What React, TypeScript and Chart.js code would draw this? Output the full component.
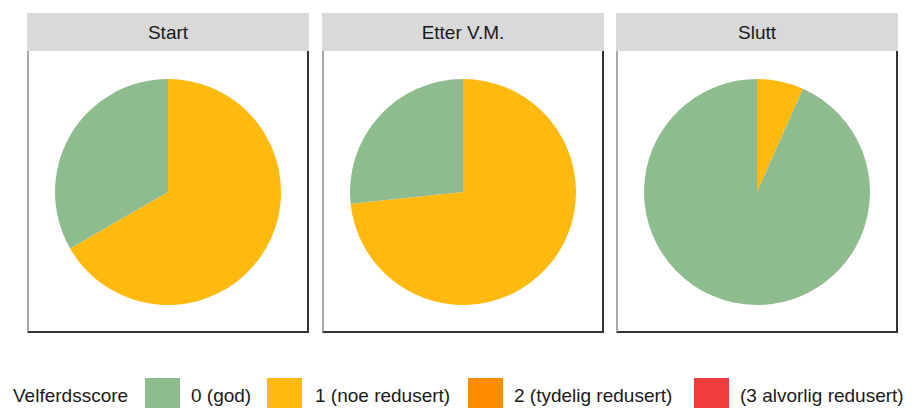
import React, { useEffect, useRef } from "react";
import { Chart, registerables } from "chart.js";

Chart.register(...registerables);

const panelTitles = ["Start", "Etter V.M.", "Slutt"];
const categories = ["0 (god)", "1 (noe redusert)", "2 (tydelig redusert)", "(3 alvorlig redusert)"];
const categoryColors = ["#8fbc8f", "#ffb90f", "#ff8c00", "#ee3b3b"];
const startCounts = [5, 10, 0, 0];
const etterCounts = [4, 11, 0, 0];
const sluttCounts = [14, 1, 0, 0];
const panelCounts = [startCounts, etterCounts, sluttCounts];
const legendTitle = "Velferdsscore";

const FONT = '"Liberation Sans", Arial, sans-serif';
const panelLefts = [27, 322, 616];
const PANEL_W = 282;
const HEADER_TOP = 13;
const HEADER_H = 38;
const BOX_TOP = 51;
const BOX_H = 282;

function Pie({ counts }: { counts: number[] }) {
  const ref = useRef<HTMLCanvasElement | null>(null);
  useEffect(() => {
    if (!ref.current) return;
    // stack order like ggplot: highest category first, clockwise from 12 o'clock
    const order = [3, 2, 1, 0];
    const chart = new Chart(ref.current, {
      type: "pie",
      data: {
        labels: order.map((i) => categories[i]),
        datasets: [
          {
            data: order.map((i) => counts[i]),
            backgroundColor: order.map((i) => categoryColors[i]),
            borderWidth: 0,
          },
        ],
      },
      options: {
        responsive: false,
        animation: false,
        devicePixelRatio: 1,
        layout: { padding: 28 },
        plugins: { legend: { display: false }, tooltip: { enabled: false } },
      },
    });
    return () => chart.destroy();
  }, [counts]);
  return <canvas ref={ref} width={PANEL_W} height={BOX_H} style={{ display: "block" }} />;
}

const textStyle: React.CSSProperties = {
  position: "absolute",
  fontFamily: FONT,
  fontSize: 19,
  lineHeight: "19px",
  color: "#1a1a1a",
  whiteSpace: "nowrap",
};

const legendItems = [
  { swatch: 145, text: 191 },
  { swatch: 267, text: 315 },
  { swatch: 468, text: 514 },
  { swatch: 694, text: 740 },
];

export default function App() {
  return (
    <div
      style={{
        position: "fixed",
        left: 0,
        top: 0,
        width: 916,
        height: 408,
        overflow: "hidden",
        background: "#ffffff",
      }}
    >
      {panelTitles.map((title, p) => (
        <React.Fragment key={title}>
          <div
            style={{
              position: "absolute",
              left: panelLefts[p],
              top: HEADER_TOP,
              width: PANEL_W,
              height: HEADER_H,
              background: "#d9d9d9",
            }}
          >
            <div style={{ ...textStyle, left: 0, width: PANEL_W, textAlign: "center", top: 10 }}>{title}</div>
          </div>
          <div style={{ position: "absolute", left: panelLefts[p], top: BOX_TOP }}>
            <Pie counts={panelCounts[p]} />
          </div>
          <div
            style={{
              position: "absolute",
              left: panelLefts[p],
              top: BOX_TOP,
              width: PANEL_W,
              height: BOX_H,
              boxSizing: "border-box",
              borderLeft: "2px solid #a8a8a8",
              borderRight: "2px solid #333333",
              borderBottom: "2px solid #333333",
              pointerEvents: "none",
            }}
          />
        </React.Fragment>
      ))}
      <div style={{ ...textStyle, left: 13, top: 386 }}>{legendTitle}</div>
      {categories.map((c, i) => (
        <React.Fragment key={c}>
          <div
            style={{
              position: "absolute",
              left: legendItems[i].swatch,
              top: 378,
              width: 35,
              height: 35,
              background: categoryColors[i],
            }}
          />
          <div style={{ ...textStyle, left: legendItems[i].text, top: 386 }}>{c}</div>
        </React.Fragment>
      ))}
    </div>
  );
}
